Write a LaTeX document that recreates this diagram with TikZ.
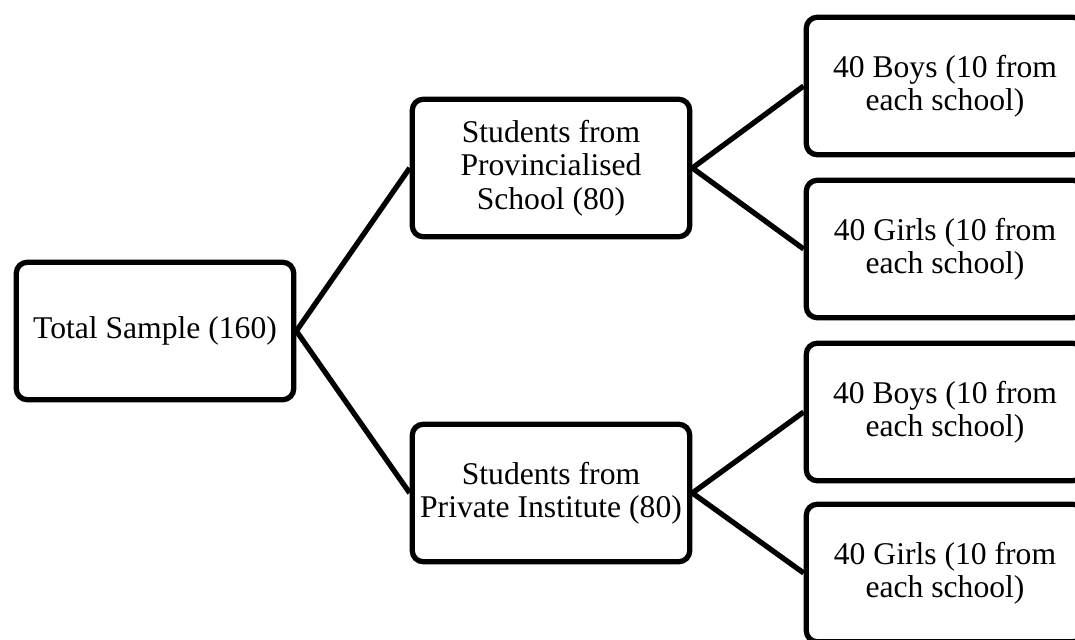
\documentclass[tikz,border=0pt]{standalone}
\usepackage{fontspec}
\setmainfont{Liberation Serif}
\tikzset{
 box/.style={draw,line width=3pt,rounded corners=0.22cm,minimum width=5.55cm,minimum height=2.75cm,align=center,font=\fontsize{18}{19}\selectfont},
 link/.style={line width=3pt}
}
\begin{document}
\begin{tikzpicture}[x=0.02cm,y=-0.02cm]
\path[use as bounding box](0,0)rectangle(1075,639);
\clip(0,0)rectangle(1075,639);%right boxes are cut off
\node[box](total)at(155,331){Total Sample (160)};%root
\node[box](prov)at(551,168){Students from\\Provincialised\\School (80)};
\node[box](priv)at(551,493){Students from\\Private Institute (80)};
\node[box](provboys)at(945,86){40 Boys (10 from\\each school)};
\node[box](provgirls)at(945,249){40 Girls (10 from\\each school)};
\node[box](privboys)at(945,412){40 Boys (10 from\\each school)};
\node[box](privgirls)at(945,573){40 Girls (10 from\\each school)};
\draw[link](total.east)--(prov.west);
\draw[link](total.east)--(priv.west);
\draw[link](prov.east)--(provboys.west);
\draw[link](prov.east)--(provgirls.west);
\draw[link](priv.east)--(privboys.west);
\draw[link](priv.east)--(privgirls.west);
\end{tikzpicture}
\end{document}
